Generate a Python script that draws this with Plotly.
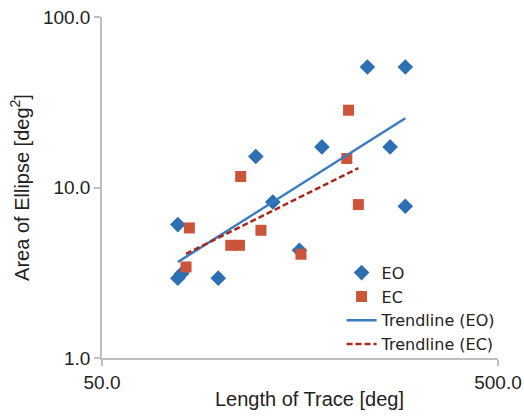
import numpy as np
import plotly.graph_objects as go

# EO (eyes open) data
eo_x = [77.7, 79.5, 77.7, 98.3, 122.3, 135.0, 157.6, 179.6, 234.0, 267.0, 291.7, 291.7]
eo_y = [6.06, 3.13, 2.94, 2.94, 15.2, 8.22, 4.28, 17.3, 50.9, 17.3, 50.9, 7.76]

# EC (eyes closed) data
ec_x = [83.1, 81.5, 112.0, 105.7, 111.2, 126.0, 159.0, 209.7, 207.6, 222.0]
ec_y = [5.79, 3.42, 11.6, 4.58, 4.58, 5.61, 4.06, 28.4, 14.8, 7.94]

x_ticks = [50, 500]
x_ticktext = ["50.0", "500.0"]
y_ticks = [1, 10, 100]
y_ticktext = ["1.0", "10.0", "100.0"]


def power_fit(xs, ys):
    lx, ly = np.log10(xs), np.log10(ys)
    b, a = np.polyfit(lx, ly, 1)
    xr = np.array([min(xs), max(xs)])
    return xr, 10 ** (a + b * np.log10(xr))


eo_tx, eo_ty = power_fit(eo_x, eo_y)
ec_tx, ec_ty = power_fit(ec_x, ec_y)

BLUE = "#2C6FB3"
RED = "#CB553B"
FONT = "Liberation Sans, Arial, sans-serif"
GRAY = "#BFBFBF"

fig = go.Figure()
fig.add_trace(go.Scatter(x=eo_x, y=eo_y, mode="markers", name="EO",
                         marker=dict(symbol="diamond", size=12, color=BLUE)))
fig.add_trace(go.Scatter(x=ec_x, y=ec_y, mode="markers", name="EC",
                         marker=dict(symbol="square", size=11, color=RED)))
fig.add_trace(go.Scatter(x=eo_tx, y=eo_ty, mode="lines", name="Trendline (EO)",
                         line=dict(color="#3A7BBF", width=2.5)))
fig.add_trace(go.Scatter(x=ec_tx, y=ec_ty, mode="lines", name="Trendline (EC)",
                         line=dict(color="#A8291C", width=2.5, dash="6px,3px")))

fig.update_layout(
    width=524, height=418,
    margin=dict(l=102, r=26, t=17, b=60, autoexpand=False),
    paper_bgcolor="white", plot_bgcolor="white",
    font=dict(family=FONT, size=19, color="#222222"),
    showlegend=True,
    legend=dict(x=0.605, y=0.30, xanchor="left", yanchor="top",
                font=dict(family="DejaVu Sans, sans-serif", size=16, color="#222222"),
                bgcolor="rgba(0,0,0,0)", tracegroupgap=0, itemwidth=30),
    xaxis=dict(type="log", range=[np.log10(50), np.log10(500)],
               tickvals=x_ticks, ticktext=x_ticktext,
               showgrid=False, zeroline=False, showline=True, linecolor=GRAY,
               linewidth=1.5, ticks="outside", ticklen=6, tickcolor=GRAY, tickwidth=1.5,
               automargin=False),
    yaxis=dict(type="log", range=[0, 2],
               tickvals=y_ticks, ticktext=y_ticktext,
               showgrid=False, zeroline=False, showline=True, linecolor=GRAY,
               linewidth=1.5, ticks="outside", ticklen=6, tickcolor=GRAY, tickwidth=1.5,
               title=dict(text="Area of Ellipse [deg<sup>2</sup>]", font=dict(size=20), standoff=8),
               automargin=False),
    annotations=[dict(text="Length of Trace [deg]", xref="paper", yref="paper",
                      x=0.523, y=-0.121, xanchor="center", yanchor="middle",
                      showarrow=False, font=dict(size=20, color="#222222"))],
)

fig.write_html("out.html")
